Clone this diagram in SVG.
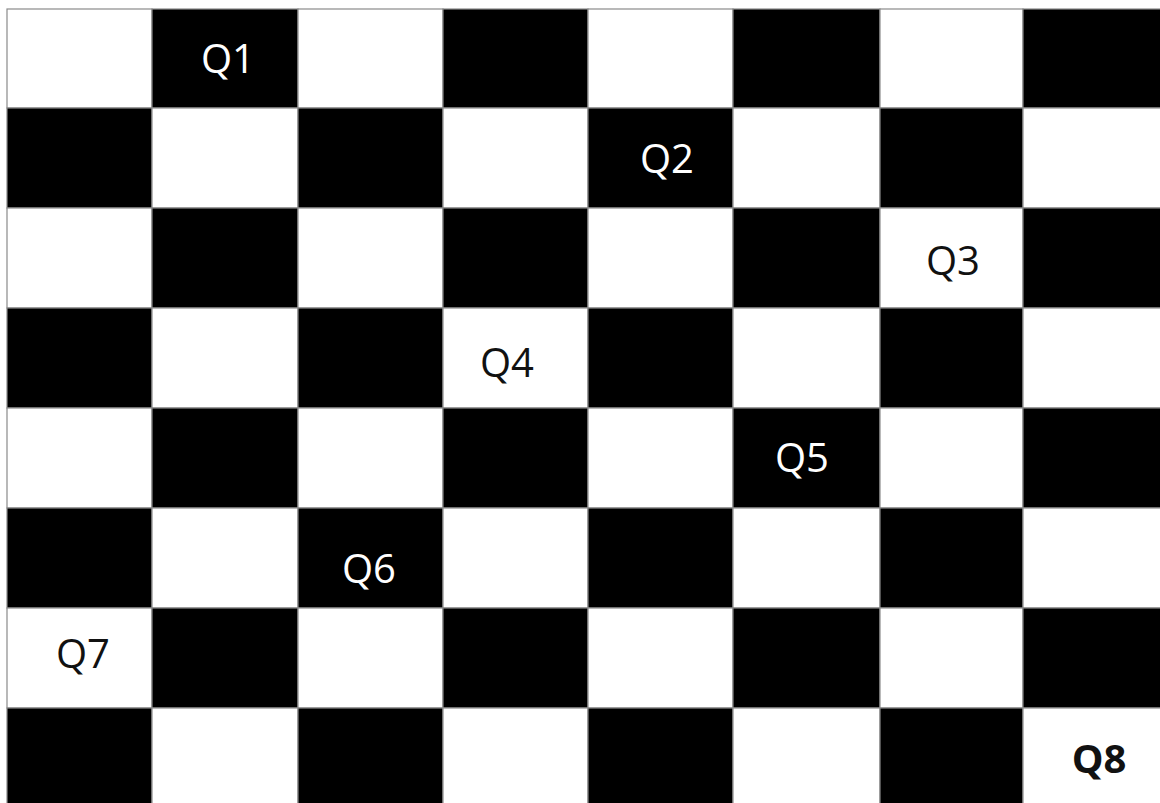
<svg xmlns="http://www.w3.org/2000/svg" width="1160" height="803" viewBox="0 0 1160 803">
<style>
.w{fill:#fff;stroke:#8a8a8a;stroke-width:1.2}
.b{fill:#000;stroke:#8a8a8a;stroke-width:1.2}
.t{font-family:"Open Sans","DejaVu Sans",sans-serif;font-size:40px;text-anchor:middle}
.tw{fill:#fff}
.tb{fill:#111}
</style>
<rect x="0" y="0" width="1160" height="803" fill="#fff"/>
<g id="board">
<!-- row 0 -->
<rect class="w" x="7" y="9" width="145" height="99"/>
<rect class="b" x="152" y="9" width="146" height="99"/>
<rect class="w" x="298" y="9" width="145" height="99"/>
<rect class="b" x="443" y="9" width="145" height="99"/>
<rect class="w" x="588" y="9" width="145" height="99"/>
<rect class="b" x="733" y="9" width="147" height="99"/>
<rect class="w" x="880" y="9" width="143" height="99"/>
<rect class="b" x="1023" y="9" width="140" height="99"/>
<!-- row 1 -->
<rect class="b" x="7" y="108" width="145" height="100"/>
<rect class="w" x="152" y="108" width="146" height="100"/>
<rect class="b" x="298" y="108" width="145" height="100"/>
<rect class="w" x="443" y="108" width="145" height="100"/>
<rect class="b" x="588" y="108" width="145" height="100"/>
<rect class="w" x="733" y="108" width="147" height="100"/>
<rect class="b" x="880" y="108" width="143" height="100"/>
<rect class="w" x="1023" y="108" width="140" height="100"/>
<!-- row 2 -->
<rect class="w" x="7" y="208" width="145" height="100"/>
<rect class="b" x="152" y="208" width="146" height="100"/>
<rect class="w" x="298" y="208" width="145" height="100"/>
<rect class="b" x="443" y="208" width="145" height="100"/>
<rect class="w" x="588" y="208" width="145" height="100"/>
<rect class="b" x="733" y="208" width="147" height="100"/>
<rect class="w" x="880" y="208" width="143" height="100"/>
<rect class="b" x="1023" y="208" width="140" height="100"/>
<!-- row 3 -->
<rect class="b" x="7" y="308" width="145" height="100"/>
<rect class="w" x="152" y="308" width="146" height="100"/>
<rect class="b" x="298" y="308" width="145" height="100"/>
<rect class="w" x="443" y="308" width="145" height="100"/>
<rect class="b" x="588" y="308" width="145" height="100"/>
<rect class="w" x="733" y="308" width="147" height="100"/>
<rect class="b" x="880" y="308" width="143" height="100"/>
<rect class="w" x="1023" y="308" width="140" height="100"/>
<!-- row 4 -->
<rect class="w" x="7" y="408" width="145" height="100"/>
<rect class="b" x="152" y="408" width="146" height="100"/>
<rect class="w" x="298" y="408" width="145" height="100"/>
<rect class="b" x="443" y="408" width="145" height="100"/>
<rect class="w" x="588" y="408" width="145" height="100"/>
<rect class="b" x="733" y="408" width="147" height="100"/>
<rect class="w" x="880" y="408" width="143" height="100"/>
<rect class="b" x="1023" y="408" width="140" height="100"/>
<!-- row 5 -->
<rect class="b" x="7" y="508" width="145" height="100"/>
<rect class="w" x="152" y="508" width="146" height="100"/>
<rect class="b" x="298" y="508" width="145" height="100"/>
<rect class="w" x="443" y="508" width="145" height="100"/>
<rect class="b" x="588" y="508" width="145" height="100"/>
<rect class="w" x="733" y="508" width="147" height="100"/>
<rect class="b" x="880" y="508" width="143" height="100"/>
<rect class="w" x="1023" y="508" width="140" height="100"/>
<!-- row 6 -->
<rect class="w" x="7" y="608" width="145" height="100"/>
<rect class="b" x="152" y="608" width="146" height="100"/>
<rect class="w" x="298" y="608" width="145" height="100"/>
<rect class="b" x="443" y="608" width="145" height="100"/>
<rect class="w" x="588" y="608" width="145" height="100"/>
<rect class="b" x="733" y="608" width="147" height="100"/>
<rect class="w" x="880" y="608" width="143" height="100"/>
<rect class="b" x="1023" y="608" width="140" height="100"/>
<!-- row 7 -->
<rect class="b" x="7" y="708" width="145" height="100"/>
<rect class="w" x="152" y="708" width="146" height="100"/>
<rect class="b" x="298" y="708" width="145" height="100"/>
<rect class="w" x="443" y="708" width="145" height="100"/>
<rect class="b" x="588" y="708" width="145" height="100"/>
<rect class="w" x="733" y="708" width="147" height="100"/>
<rect class="b" x="880" y="708" width="143" height="100"/>
<rect class="w" x="1023" y="708" width="140" height="100"/>
</g>
<g id="Q1"><text class="t tw" x="228" y="73">Q1</text></g>
<g id="Q2"><text class="t tw" x="667" y="173">Q2</text></g>
<g id="Q3"><text class="t tb" x="953" y="275">Q3</text></g>
<g id="Q4"><text class="t tb" x="507" y="377">Q4</text></g>
<g id="Q5"><text class="t tw" x="802" y="472">Q5</text></g>
<g id="Q6"><text class="t tw" x="369" y="583">Q6</text></g>
<g id="Q7"><text class="t tb" x="83" y="668">Q7</text></g>
<g id="Q8"><text class="t tb" x="1099" y="773" font-weight="bold">Q8</text></g>
</svg>
